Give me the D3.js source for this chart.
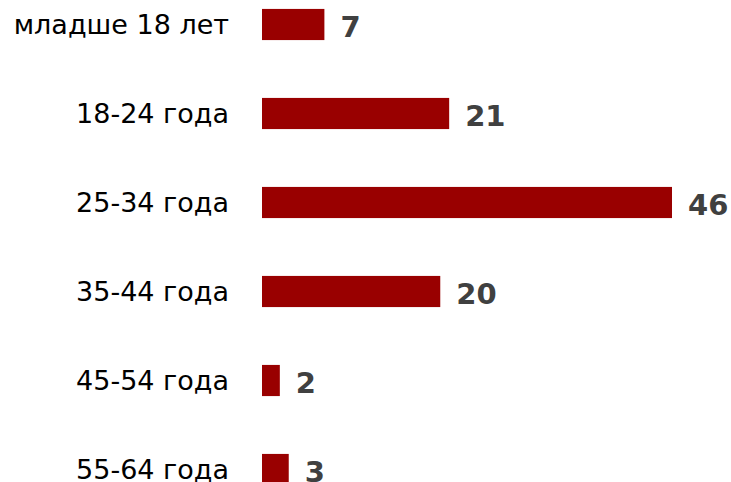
<!DOCTYPE html>
<html>
<head>
<meta charset="utf-8">
<script src="https://cdn.jsdelivr.net/npm/d3@7"></script>
<style>
  body { margin: 0; background: #fff; }
  svg { display: block; }
</style>
</head>
<body>
<svg width="731" height="482"></svg>
<script>
// data
var categories = ["младше 18 лет", "18-24 года", "25-34 года", "35-44 года", "45-54 года", "55-64 года"];
var values = [7, 21, 46, 20, 2, 3];

var svg = d3.select("svg"),
  width = +svg.attr("width"),
  height = +svg.attr("height");

var x = d3.scaleLinear()
  .domain([0, 46])
  .range([262, 672]);

var y = d3.scaleBand()
  .domain(categories)
  .range([-20, 514])
  .paddingInner(0.65)
  .paddingOuter(0.325);

var rows = svg.append("g")
  .selectAll("g")
  .data(categories)
  .enter()
  .append("g");

// category labels
rows.append("text")
  .attr("x", 229)
  .attr("y", function(d) { return y(d) + y.bandwidth() / 2; })
  .attr("dy", "0.36em")
  .attr("text-anchor", "end")
  .style("font-family", "'DejaVu Sans', Verdana, sans-serif")
  .style("font-size", "27px")
  .style("fill", "#000")
  .text(function(d) { return d; });

// bars
rows.append("rect")
  .attr("x", x(0))
  .attr("y", function(d) { return y(d); })
  .attr("width", function(d, i) { return x(values[i]) - x(0); })
  .attr("height", y.bandwidth())
  .attr("fill", "#990000");

// value labels
rows.append("text")
  .attr("x", function(d, i) { return x(values[i]) + 16; })
  .attr("y", function(d) { return y(d) + y.bandwidth() / 2 + 2; })
  .attr("dy", "0.36em")
  .style("font-family", "'DejaVu Sans', Verdana, sans-serif")
  .style("font-size", "29px")
  .style("font-weight", "bold")
  .style("fill", "#404040")
  .text(function(d, i) { return values[i]; });
</script>
</body>
</html>
